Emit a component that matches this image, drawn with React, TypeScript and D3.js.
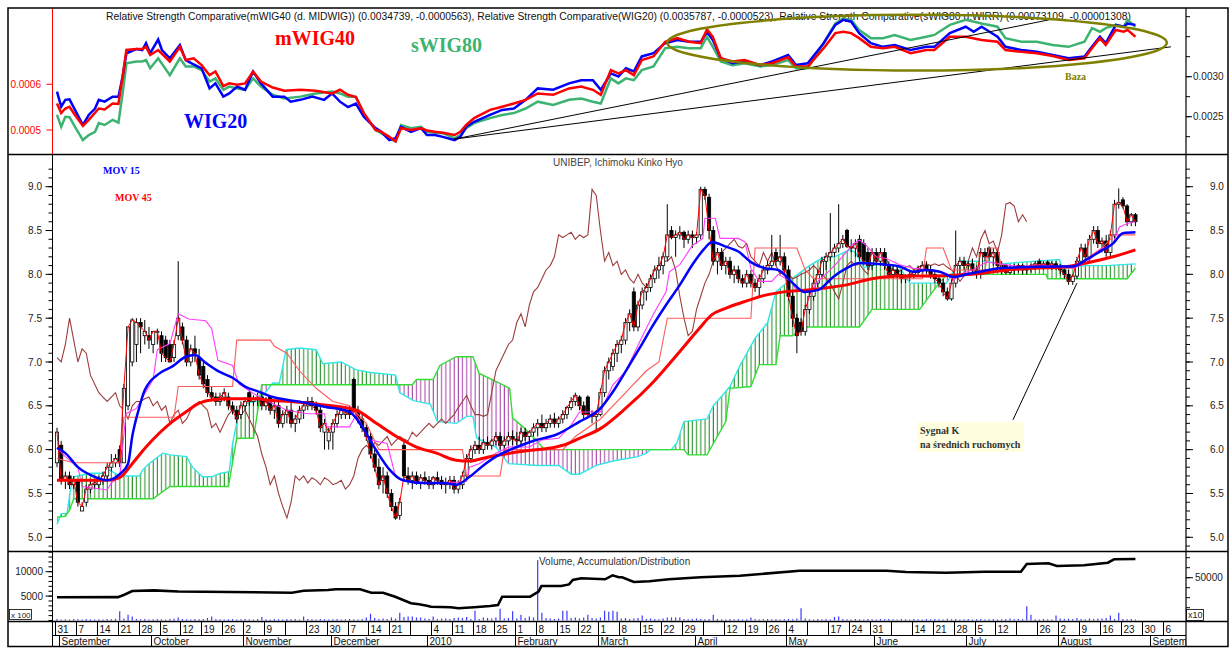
import React from "react";
import * as d3 from "d3";

type P = [number, number];

// ---------- DATA ----------
// daily candles of UNIBEP: [open, high, low, close], index = trading day from 2009-08-31
const candles: [number, number, number, number][] = [
  [5.85,6.25,5.8,6.2],[6.05,6.1,5.6,5.65],[5.65,5.75,5.55,5.7],[5.7,5.75,5.55,5.6],[5.6,5.7,5.55,5.65],
  [5.65,5.65,5.35,5.4],[5.3,5.4,5.3,5.35],[5.4,5.6,5.35,5.55],[5.55,5.65,5.5,5.6],[5.6,5.65,5.55,5.62],
  [5.6,5.7,5.55,5.65],[5.65,5.75,5.6,5.7],[5.7,5.85,5.65,5.8],[5.8,5.95,5.75,5.85],[5.85,5.95,5.8,5.9],
  [6.0,6.05,5.8,5.85],[5.85,6.75,5.85,6.7],[6.5,7.4,6.45,7.4],[7.0,7.5,6.95,7.48],[7.2,7.5,7.0,7.45],
  [7.45,7.5,7.1,7.4],[7.3,7.48,7.2,7.35],[7.3,7.4,7.15,7.25],[7.2,7.35,7.1,7.35],[7.35,7.38,7.2,7.35],
  [7.3,7.35,7.0,7.1],[7.25,7.3,7.0,7.05],[7.2,7.25,7.0,7.0],[7.05,7.25,7.0,7.2],[7.3,8.15,7.25,7.5],
  [7.4,7.45,7.2,7.25],[7.25,7.3,6.95,7.0],[7.0,7.2,6.95,7.15],[7.15,7.3,7.0,7.1],[7.05,7.15,6.8,6.85],
  [6.95,7.0,6.7,6.75],[6.8,6.85,6.6,6.65],[6.65,6.72,6.55,6.6],[6.6,6.65,6.5,6.55],[6.55,6.65,6.5,6.6],
  [6.6,6.7,6.55,6.65],[6.6,6.65,6.45,6.5],[6.5,6.55,6.4,6.45],[6.45,6.5,6.3,6.35],[6.4,6.55,6.35,6.5],
  [6.5,6.6,6.45,6.55],[6.65,6.68,6.5,6.55],[6.55,6.62,6.5,6.58],[6.58,6.65,6.5,6.6],[6.6,6.65,6.45,6.5],
  [6.5,6.6,6.45,6.55],[6.6,6.62,6.4,6.45],[6.45,6.55,6.35,6.5],[6.5,6.6,6.25,6.3],[6.3,6.45,6.25,6.4],
  [6.4,6.5,6.3,6.45],[6.45,6.55,6.25,6.3],[6.3,6.4,6.2,6.35],[6.35,6.5,6.3,6.45],[6.45,6.55,6.35,6.5],
  [6.5,6.6,6.45,6.55],[6.55,6.6,6.45,6.5],[6.5,6.55,6.4,6.45],[6.45,6.5,6.2,6.25],[6.2,6.35,6.0,6.3],
  [6.1,6.25,6.0,6.2],[6.2,6.35,6.0,6.3],[6.3,6.45,6.25,6.4],[6.4,6.5,6.35,6.45],[6.4,6.5,6.35,6.42],
  [6.45,6.5,6.35,6.4],[6.8,6.82,6.42,6.45],[6.45,6.5,6.3,6.35],[6.35,6.4,6.2,6.25],[6.25,6.3,6.1,6.15],
  [6.15,6.2,5.9,5.95],[5.95,6.0,5.75,5.8],[5.8,5.9,5.55,5.6],[5.65,5.8,5.5,5.7],[5.7,5.75,5.45,5.5],
  [5.5,5.55,5.3,5.35],[5.35,5.4,5.2,5.22],[5.25,5.45,5.2,5.4],[6.05,6.1,5.65,5.7],[5.7,5.8,5.6,5.65],
  [5.65,5.75,5.55,5.7],[5.7,5.75,5.6,5.62],[5.62,5.72,5.55,5.68],[5.68,5.75,5.6,5.65],[5.65,5.7,5.55,5.6],
  [5.6,5.7,5.55,5.68],[5.68,5.75,5.6,5.65],[5.65,5.7,5.55,5.6],[5.6,5.68,5.5,5.62],[5.62,5.7,5.55,5.65],
  [5.65,5.7,5.5,5.55],[5.55,5.65,5.5,5.6],[5.6,5.75,5.55,5.7],[5.7,5.95,5.65,5.9],[5.9,6.05,5.85,6.0],
  [6.0,6.1,5.95,6.05],[6.05,6.15,5.95,6.0],[6.0,6.12,5.95,6.08],[6.08,6.15,6.0,6.05],[6.05,6.12,6.0,6.1],
  [6.1,6.2,6.05,6.15],[6.15,6.2,6.0,6.05],[6.05,6.15,5.95,6.1],[6.1,6.2,6.05,6.15],[6.15,6.22,6.05,6.12],
  [6.12,6.2,6.05,6.1],[6.1,6.25,6.05,6.2],[6.2,6.25,6.1,6.15],[6.15,6.22,6.08,6.2],[6.2,6.3,6.15,6.25],
  [6.25,6.35,6.15,6.3],[6.3,6.4,6.2,6.25],[6.25,6.35,6.2,6.3],[6.3,6.4,6.25,6.35],[6.35,6.42,6.25,6.3],
  [6.3,6.38,6.25,6.35],[6.35,6.45,6.3,6.4],[6.4,6.5,6.35,6.48],[6.48,6.6,6.45,6.55],[6.55,6.65,6.5,6.62],
  [6.6,6.62,6.45,6.5],[6.5,6.55,6.35,6.4],[6.6,6.62,6.38,6.4],[6.4,6.45,6.3,6.38],[6.38,6.45,6.2,6.4],
  [6.4,6.7,6.38,6.65],[6.65,6.95,6.6,6.9],[6.9,7.05,6.8,7.0],[6.95,7.15,6.9,7.1],[7.1,7.25,7.0,7.2],
  [7.2,7.3,7.1,7.25],[7.25,7.5,7.2,7.45],[7.45,7.6,7.35,7.55],[7.8,7.85,7.35,7.4],[7.4,7.7,7.35,7.65],
  [7.65,7.85,7.6,7.8],[7.8,7.9,7.7,7.85],[7.85,8.0,7.8,7.95],[7.95,8.1,7.9,8.05],[8.05,8.2,7.95,8.1],
  [8.1,8.25,8.0,8.2],[8.2,8.8,8.15,8.45],[8.5,8.55,8.4,8.42],[8.42,8.5,8.2,8.45],[8.45,8.55,8.4,8.48],
  [8.48,8.5,8.3,8.4],[8.4,8.5,8.35,8.45],[8.45,8.5,8.3,8.42],[8.42,8.48,8.35,8.45],[8.45,9.0,8.4,8.97],
  [8.97,9.0,8.85,8.9],[8.88,8.92,8.4,8.5],[8.5,8.55,8.1,8.15],[8.15,8.3,8.0,8.25],[8.25,8.3,8.05,8.1],
  [8.1,8.2,8.0,8.15],[8.15,8.2,7.95,8.0],[8.0,8.1,7.9,8.05],[8.05,8.1,7.9,7.95],[7.95,8.0,7.85,7.9],
  [7.9,8.05,7.85,8.0],[8.0,8.05,7.85,7.9],[7.9,7.95,7.8,7.85],[7.85,8.0,7.75,7.95],[7.95,8.1,7.9,8.05],
  [8.05,8.15,8.0,8.1],[8.1,8.45,8.05,8.15],[8.25,8.3,8.1,8.15],[8.15,8.45,8.1,8.2],[8.2,8.25,8.0,8.05],
  [8.05,8.1,7.7,7.75],[7.75,7.8,7.4,7.5],[7.5,7.55,7.1,7.3],[7.45,7.5,7.3,7.35],[7.35,7.65,7.3,7.6],
  [7.6,7.8,7.55,7.75],[7.75,7.95,7.7,7.9],[7.9,8.05,7.85,8.0],[8.0,8.2,7.95,8.15],[8.15,8.25,8.05,8.2],
  [8.2,8.7,8.15,8.25],[8.25,8.35,8.2,8.3],[8.3,8.8,8.25,8.35],[8.35,8.45,8.3,8.4],[8.5,8.52,8.3,8.32],
  [8.32,8.4,8.25,8.3],[8.3,8.4,8.2,8.35],[8.4,8.45,8.15,8.2],[8.35,8.4,8.1,8.15],[8.25,8.3,8.05,8.1],
  [8.1,8.3,8.05,8.25],[8.25,8.3,8.1,8.15],[8.15,8.3,8.1,8.25],[8.25,8.3,8.05,8.1],[8.1,8.15,7.95,8.0],
  [8.0,8.1,7.95,8.05],[8.05,8.1,7.95,8.0],[8.0,8.05,7.9,7.95],[7.95,8.0,7.9,7.97],[7.97,8.05,7.92,8.0],
  [8.0,8.05,7.95,8.02],[8.02,8.1,7.97,8.05],[8.05,8.15,8.0,8.1],[8.1,8.15,8.0,8.05],[8.05,8.1,7.95,8.0],
  [8.0,8.05,7.9,7.95],[7.95,8.0,7.85,7.9],[7.9,7.95,7.75,7.8],[7.8,7.85,7.7,7.72],[7.72,7.95,7.7,7.9],
  [7.9,8.5,7.85,8.1],[8.1,8.2,8.0,8.15],[8.15,8.2,8.05,8.1],[8.1,8.15,8.05,8.12],[8.12,8.18,8.0,8.05],
  [8.05,8.1,7.95,8.0],[8.0,8.3,7.95,8.25],[8.25,8.3,8.15,8.2],[8.3,8.32,8.15,8.2],[8.2,8.3,8.1,8.25],
  [8.25,8.3,8.05,8.1],[8.1,8.15,8.0,8.05],[8.1,8.12,8.0,8.02],[8.02,8.1,8.0,8.05],[8.05,8.12,8.0,8.08],
  [8.08,8.12,8.02,8.1],[8.1,8.12,8.0,8.05],[8.05,8.1,8.0,8.08],[8.08,8.12,8.02,8.1],[8.1,8.15,8.05,8.12],
  [8.15,8.18,8.08,8.1],[8.1,8.15,8.05,8.12],[8.14,8.16,8.08,8.1],[8.1,8.15,8.05,8.12],[8.12,8.15,8.05,8.08],
  [8.08,8.12,8.0,8.05],[8.05,8.1,7.95,8.0],[8.0,8.05,7.88,7.92],[7.92,8.0,7.88,7.98],[7.98,8.2,7.95,8.15],
  [8.15,8.35,8.1,8.3],[8.3,8.35,8.15,8.2],[8.2,8.45,8.15,8.4],[8.4,8.55,8.35,8.5],[8.5,8.55,8.3,8.35],
  [8.35,8.42,8.25,8.38],[8.38,8.45,8.2,8.25],[8.25,8.5,8.2,8.45],[8.45,8.85,8.4,8.8],[8.8,8.98,8.75,8.82],
  [8.85,8.88,8.75,8.78],[8.78,8.8,8.55,8.6],[8.6,8.7,8.55,8.68],[8.68,8.7,8.55,8.6]
];

// volume in hundreds of shares
const volume: number[] = [
  300,200,250,200,300,250,200,300,250,200,
  250,200,300,250,350,1900,400,1200,800,300,
  250,300,200,250,300,250,200,300,350,600,
  300,250,200,300,250,300,500,800,300,250,
  200,250,300,200,250,300,250,200,300,700,
  250,200,300,250,200,300,250,300,200,800,
  300,250,200,300,250,200,250,300,200,250,
  300,250,200,300,600,1400,500,300,400,300,
  600,400,1600,700,800,800,600,600,400,300,
  800,300,400,400,300,500,600,500,700,300,
  2000,300,600,500,400,600,2400,400,500,1900,
  400,1200,500,800,600,12400,1600,500,400,300,
  400,2000,2000,500,600,400,600,1200,500,400,
  600,2000,1800,2000,1800,400,500,300,400,500,
  1000,300,400,300,250,400,600,600,600,600,
  300,250,300,400,300,250,300,1200,300,250,
  200,300,250,300,200,250,600,300,200,250,
  300,250,300,200,250,300,250,400,2500,400,
  250,200,300,250,300,200,700,800,300,250,
  200,300,250,200,300,250,200,300,250,300,
  250,200,300,250,200,300,250,200,300,250,
  300,250,200,350,250,300,200,250,300,200,
  250,300,200,250,300,200,250,300,400,250,
  300,250,2900,1200,250,200,300,250,200,1000,
  400,300,350,300,500,300,250,400,300,350,
  400,500,1000,300,1600,300,250,300,200
];

// Accumulation/Distribution (x10) at sampled days
const accDist: P[] = [
  [0,40200],[14.6,40300],[16.1,41500],[18,43350],[23.2,43650],[29,43100],[56.2,42500],[59,43500],
  [64.8,43850],[66.7,44200],[72.5,44200],[75.2,42500],[78,42500],[80.9,40500],[84.7,37200],[86.6,36700],
  [88.5,36000],[89.5,35500],[94.2,35200],[96,34700],[99.8,35200],[103.6,35850],[105.5,36350],[106.5,40500],
  [113.2,40500],[115.2,43000],[115.9,45850],[120.6,45850],[122.5,46650],[123.4,48850],[125.4,49700],
  [131.1,49200],[132.9,51200],[134.4,50200],[135.2,50200],[138,47850],[141.7,48200],[146.4,49200],
  [154,50200],[163.4,51000],[177.7,53500],[198.5,53500],[203.1,52850],[212.7,52500],[222,53000],
  [230.6,53000],[232,56850],[237.2,57200],[239.2,55850],[245.7,56200],[251.4,57500],[252.9,59200],[258,59350]
];

// moving averages and Ichimoku lines, sampled [day, value]
const mov15: P[] = [
  [0,6.02],[2,5.96],[5,5.8],[9,5.69],[12,5.65],[15,5.72],[17,5.84],[18,6.15],[19.5,6.45],[21,6.68],
  [24.5,6.87],[27.6,6.95],[30.8,7.06],[33,7.08],[35.6,6.99],[38.8,6.89],[42,6.82],[45,6.72],[48.4,6.66],
  [51.6,6.6],[55,6.57],[60,6.53],[64,6.49],[70,6.43],[73,6.26],[76.4,5.99],[79.6,5.77],[82.8,5.65],
  [87.6,5.62],[92.4,5.62],[95.5,5.6],[98.7,5.69],[102,5.82],[105,5.92],[110,6.03],[114.6,6.11],
  [119.4,6.17],[125,6.32],[130,6.47],[133,6.66],[136,6.89],[139.4,7.16],[142.6,7.42],[145.7,7.65],
  [149,7.88],[152,8.11],[155,8.3],[156.7,8.37],[159.8,8.32],[163,8.26],[166,8.14],[169.3,8.07],
  [172.5,8.05],[175.6,7.92],[178.8,7.8],[182,7.82],[185.7,7.97],[188.9,8.07],[192,8.13],[198.4,8.11],
  [201.6,8.09],[204.8,8.03],[208,8.05],[211.2,8.03],[214.4,7.97],[217.6,8.0],[220.8,8.03],[225.5,8.07],
  [230.3,8.08],[239.8,8.09],[243,8.09],[246,8.16],[249.5,8.26],[252.6,8.35],[255,8.47],[258,8.48]
];
const mov45: P[] = [
  [0,5.65],[5,5.65],[12,5.65],[15,5.68],[18,5.84],[21.3,6.03],[24.5,6.19],[27.6,6.32],[30.8,6.43],
  [34,6.53],[37.2,6.57],[42,6.58],[46.8,6.58],[51.6,6.56],[56,6.55],[60,6.53],[64,6.51],[71.6,6.45],
  [76.4,6.3],[81.2,6.15],[86,6.03],[90.8,5.96],[95.5,5.88],[98.7,5.87],[103.5,5.92],[108.3,5.96],
  [113,5.99],[119.4,6.03],[121,6.05],[125,6.13],[130,6.24],[136,6.47],[142.6,6.77],[149,7.12],
  [153.6,7.38],[156.7,7.54],[159.8,7.61],[164.6,7.69],[169.3,7.76],[174,7.8],[179,7.82],[183,7.84],
  [188.9,7.88],[195,7.95],[201.6,7.98],[208,7.98],[214.4,7.99],[220.8,8.01],[227.2,8.05],[233.6,8.07],
  [240,8.08],[246.3,8.13],[252.6,8.2],[258,8.28]
];
const tenkan: P[] = [
  [0,6.02],[2,5.92],[5,5.8],[6,5.58],[9,5.56],[12,5.54],[13,5.62],[15,5.69],[16.5,6.41],[19,6.47],
  [21,6.64],[23,6.8],[24,7.14],[27,7.21],[29,7.55],[31.5,7.49],[35.6,7.47],[37,7.38],[38.5,7.02],
  [42,6.96],[43.5,6.75],[47,6.64],[50,6.56],[55,6.45],[60,6.41],[64,6.41],[64.5,6.26],[70,6.26],
  [71.6,6.4],[74.8,6.11],[79,6.07],[81,5.69],[83,5.64],[88,5.62],[96,5.63],[98,5.64],[98.7,5.8],
  [101,5.84],[105,5.96],[108,6.03],[113,6.03],[116,6.11],[120,6.13],[123,6.28],[125,6.43],[130,6.43],
  [133,6.74],[136,6.89],[139.4,7.23],[142.6,7.54],[145.7,7.8],[146.5,8.03],[149,8.11],[152,8.33],
  [154.5,8.41],[155,8.64],[157.5,8.64],[158.6,8.41],[163,8.41],[164.6,8.37],[166,8.07],[168,7.92],
  [171,7.92],[172.5,8.0],[175.6,7.92],[177,7.81],[180.5,7.81],[182,7.92],[185,8.05],[187,8.15],
  [190.5,8.35],[192,8.39],[193.6,8.33],[196,8.2],[198.4,8.18],[201.6,8.11],[204.8,8.07],[209.6,8.05],
  [212.8,8.01],[214.4,7.93],[216,8.0],[219,8.05],[222.4,8.14],[225.5,8.12],[230,8.09],[235,8.11],
  [240,8.09],[243,8.07],[246,8.12],[249.5,8.28],[252.6,8.35],[254.2,8.54],[256,8.58],[258,8.6]
];
const kijun: P[] = [
  [0,5.9],[4,5.85],[15,5.85],[16,6.37],[28,6.37],[29,6.72],[42,6.72],[43,7.25],[51,7.25],[52,7.18],
  [55,7.1],[58,6.9],[62,6.7],[66,6.55],[70,6.5],[74,6.3],[77,6.0],[97,6.0],[98,5.7],[106,5.7],
  [107,6.0],[121,6.0],[124,6.15],[130,6.35],[137,6.7],[141,6.9],[144,7.0],[146,7.5],[166,7.5],
  [167,8.3],[177,8.3],[179,8.05],[181,7.95],[207,7.95],[208,8.3],[212,8.3],[214,8.05],[222,8.05],
  [223,8.3],[225,8.3],[226,8.07],[243,8.07],[245,8.14],[250,8.3],[253,8.45],[258,8.45]
];
const senkouA: P[] = [
  [0,5.15],[1,5.27],[2.4,5.27],[3.2,5.54],[4,5.69],[8,5.73],[11,5.73],[12.5,5.77],[15,5.7],[19.7,5.7],
  [20.5,5.77],[22,5.84],[25.3,5.96],[27,5.94],[31,5.92],[32.4,5.8],[34.8,5.69],[37,5.69],[39,5.73],
  [41.2,5.75],[42,6.07],[43.6,6.45],[45,6.53],[48.4,6.56],[51.6,6.76],[53.2,6.76],[54.8,7.14],[58,7.16],
  [62,7.14],[63.6,6.98],[68,7.0],[71.6,6.91],[75,6.88],[81,6.85],[82,6.65],[85.3,6.56],[89.3,6.52],
  [91,6.32],[95.5,6.3],[98,6.38],[99.5,6.38],[100.4,6.13],[105,6.03],[108,5.84],[115,5.82],[120,5.82],
  [123,5.72],[125,5.72],[129,5.82],[133,5.87],[139,5.92],[141,5.96],[142,6.0],[147,6.0],[148.3,6.08],
  [150,6.32],[155.5,6.35],[157,6.5],[161,6.72],[163.3,6.95],[167,7.27],[170,7.45],[172,7.8],[175,7.92],
  [180,8.1],[183.6,8.2],[186,8.2],[189.7,8.28],[191,8.25],[193,8.08],[197,8.12],[201,8.1],[202,8.05],
  [204,7.9],[212.8,7.9],[214.4,8.03],[216,8.15],[222,8.15],[226,8.12],[231,8.14],[239.8,8.17],
  [240.6,8.05],[242,8.08],[246,8.1],[251,8.1],[258,8.12]
];
const senkouB: P[] = [
  [0,5.23],[2,5.24],[3,5.31],[4,5.44],[23,5.44],[27,5.58],[41,5.58],[43,6.13],[47,6.13],[49,6.74],
  [85,6.74],[86,6.8],[90,6.8],[91.6,6.96],[95.5,7.06],[99.5,7.06],[101,6.87],[105,6.78],[108.3,6.7],
  [109,6.36],[111.5,6.26],[115,6.09],[116.6,6.0],[150,6.0],[151,5.94],[155.5,5.94],[160,6.32],
  [161,6.7],[166,6.72],[168,6.97],[172,6.97],[173,7.3],[176,7.3],[179,7.4],[192,7.4],[195,7.6],
  [206.4,7.6],[211,7.9],[213,8.0],[236.6,8.0],[237,7.95],[256,7.95],[258,8.07]
];
const CHIKOU_LAG = 26;

// Relative Strength Comparative, in units of 1e-4
const rsWIG20: P[] = [
  [0,5.84],[1,5.51],[2,5.66],[3,5.67],[4.3,5.44],[6.2,5.11],[7.6,5.33],[9.1,5.47],[10,5.66],[11.4,5.62],
  [13.3,5.73],[14.7,5.73],[15.7,6.17],[16.6,6.68],[19,6.77],[20.4,6.75],[21.3,6.9],[22.3,6.68],[24.2,6.98],
  [25.1,6.75],[27,6.57],[29.4,6.86],[30.8,6.53],[32.2,6.46],[34.6,6.35],[36.5,5.91],[37.9,6.02],[39.8,5.73],
  [41.2,5.8],[43.1,5.95],[45,5.88],[46.9,6.28],[48.8,6.02],[51.6,5.73],[54.4,5.73],[55.9,5.62],[58.2,5.66],
  [61.1,5.73],[63.9,5.66],[65.8,5.8],[67.7,5.62],[69.6,5.5],[71.5,5.58],[73.4,5.29],[76.2,5.04],[77.6,4.96],
  [79.5,4.78],[81,4.82],[82.3,5.07],[84.7,4.96],[87.1,5.04],[88.5,4.89],[90.4,4.89],[92.3,4.85],[95.1,4.78],
  [96.5,4.85],[97.9,5.07],[99.8,5.18],[103.6,5.33],[106.5,5.44],[109.3,5.47],[112.1,5.66],[115,5.91],
  [118.7,5.88],[122.5,6.02],[125.4,6.09],[128.2,6.09],[130.1,5.88],[132.5,6.24],[134.3,6.17],[136.1,6.35],
  [138,6.28],[139.9,6.61],[142.7,6.68],[145.5,6.9],[148.4,6.97],[151.2,6.93],[154,6.93],[155.5,7.15],
  [156.9,6.97],[158.8,6.57],[161.6,6.46],[164.5,6.5],[168.3,6.42],[171.1,6.5],[174.9,6.64],[176.8,6.42],
  [179.6,6.46],[183.4,6.9],[186.2,7.3],[188.1,7.41],[190,7.37],[191.9,7.12],[194.7,6.9],[197.6,6.82],
  [200.4,6.86],[204.2,6.75],[208,6.82],[209.9,6.82],[213.6,7.12],[217.4,7.26],[219.3,7.15],[221.2,7.26],
  [223.1,7.15],[225,7.04],[226.9,6.82],[230.7,6.75],[234.4,6.71],[238.2,6.64],[242,6.57],[245.8,6.61],
  [247.6,6.82],[249.5,7.04],[250.9,6.9],[253.3,7.3],[255.2,7.26],[256.1,7.33],[258,7.3]
];
const rsMWIG40: P[] = [
  [0,5.58],[1,5.37],[2,5.47],[3,5.51],[4.3,5.33],[6.2,5.09],[7.6,5.22],[10,5.47],[11.4,5.45],[13.3,5.58],
  [14.7,5.57],[15.7,6.17],[16.6,6.75],[19,6.77],[20.4,6.77],[21.3,6.82],[22.3,6.64],[24.2,6.75],[27,6.5],
  [29.4,6.82],[30.8,6.53],[32.7,6.57],[34.6,6.42],[36.5,6.2],[37.9,6.28],[39.8,5.96],[41.2,6.02],[43.1,5.99],
  [45,6.02],[46.9,6.28],[48.8,6.06],[51.6,5.93],[54.4,5.86],[58.2,5.88],[61.9,5.86],[65.8,5.8],[67.7,5.88],
  [69.6,5.77],[71.5,5.72],[73.4,5.37],[76.2,5.0],[77.6,4.96],[79.5,4.85],[81,4.75],[82.3,5.04],[84.7,5.0],
  [87.1,5.04],[88.5,4.99],[90.4,4.96],[92.3,4.94],[95.1,4.89],[96.5,4.96],[97.9,5.11],[99.8,5.26],
  [103.6,5.44],[106.5,5.51],[109.3,5.58],[112.1,5.66],[115,5.8],[118.7,5.77],[122.5,5.91],[125.4,5.95],
  [128.2,5.88],[130.1,5.77],[132.5,6.31],[134.3,6.24],[136.1,6.31],[138,6.2],[139.9,6.53],[142.7,6.61],
  [145.5,6.93],[148.4,7.01],[151.2,6.93],[154,6.9],[155.5,7.2],[156.9,7.04],[158.8,6.57],[161.6,6.5],
  [164.5,6.53],[168.3,6.42],[171.1,6.46],[174.9,6.59],[176.8,6.39],[179.6,6.39],[183.4,6.79],[186.2,7.12],
  [188.1,7.15],[190,7.12],[191.9,7.01],[194.7,6.82],[197.6,6.79],[200.4,6.82],[204.2,6.68],[208,6.75],
  [209.9,6.75],[213.6,7.04],[217.4,7.04],[221.2,6.97],[225,6.93],[226.9,6.75],[230.7,6.71],[234.4,6.68],
  [238.2,6.62],[242,6.53],[245.8,6.57],[247.6,6.79],[249.5,7.01],[250.9,6.86],[253.3,7.19],[255.2,7.15],
  [256.1,7.19],[258,7.04]
];
const rsSWIG80: P[] = [
  [0,5.33],[1,5.07],[2,5.29],[3,5.28],[4.3,5.07],[6.2,4.78],[7.6,4.89],[9.1,4.96],[10,5.15],[11.4,5.11],
  [13.3,5.22],[14.7,5.16],[15.7,5.8],[16.6,6.46],[19,6.5],[20.4,6.5],[21.3,6.53],[22.3,6.35],[24.2,6.57],
  [27,6.2],[29.4,6.57],[30.8,6.39],[32.7,6.39],[34.6,6.31],[36.5,6.06],[37.9,6.13],[39.8,5.88],[41.2,5.95],
  [43.1,5.91],[45,5.88],[46.9,6.13],[48.8,5.95],[51.6,5.77],[54.4,5.69],[58.2,5.73],[61.9,5.8],[65.8,5.84],
  [67.7,5.8],[69.6,5.73],[71.5,5.73],[73.4,5.37],[76.2,5.0],[77.6,4.93],[79.5,4.82],[81,4.75],[82.3,5.11],
  [84.7,5.04],[87.1,5.07],[88.5,4.96],[90.4,4.94],[92.3,4.93],[95.1,4.82],[96.5,4.89],[97.9,5.04],
  [99.8,5.15],[103.6,5.26],[106.5,5.33],[109.3,5.37],[112.1,5.47],[115,5.62],[118.7,5.55],[122.5,5.66],
  [125.4,5.69],[128.2,5.62],[130.1,5.58],[132.5,6.13],[134.3,6.02],[136.1,6.13],[138,6.09],[139.9,6.31],
  [142.7,6.39],[145.5,6.79],[148.4,6.82],[151.2,6.79],[154,6.79],[155.5,7.04],[156.9,6.82],[158.8,6.5],
  [161.6,6.42],[164.5,6.46],[168.3,6.39],[171.1,6.42],[174.9,6.53],[176.8,6.35],[179.6,6.35],[183.4,6.9],
  [186.2,7.33],[188.1,7.44],[190,7.41],[191.9,7.19],[194.7,7.01],[197.6,7.01],[200.4,7.08],[204.2,6.97],
  [208,7.04],[209.9,7.08],[213.6,7.3],[217.4,7.41],[221.2,7.33],[225,7.26],[226.9,7.01],[230.7,6.93],
  [234.4,6.93],[238.2,6.86],[242,6.82],[245.8,6.93],[247.6,7.23],[249.5,7.15],[250.9,7.23],[253.3,7.3],
  [255.2,7.26],[256.1,7.41],[258,7.26]
];

// annotations (data coordinates)
const rsTrendLines: [P, P][] = [
  [[95, 4.8], [237.3, 7.41]],
  [[95, 4.8], [266.5, 6.82]],
];
const bazaEllipse = { i0: 146, i1: 265.5, vTop: 7.52, vBottom: 6.3 };
const signalLine: [P, P] = [[228.7, 6.34], [244, 7.9]];

// axis texts
const weekLabels = ["31","7","14","21","28","5","12","19","26","2","9","","23","30","7","14","21","","4","11","18","25",
  "1","8","15","22","1","8","15","22","29","","12","19","26","4","","17","24","31","","14","21","28","5","12","","26",
  "2","9","16","23","30","6"];
const monthLabels = ["September","October","November","December","2010","February","March","April","May","June",
  "July","August","September"];
const priceTicks = [5.0, 5.5, 6.0, 6.5, 7.0, 7.5, 8.0, 8.5, 9.0];
const rsLeftTicks: [number, string][] = [[5, "0.0005"], [6, "0.0006"]];
const rsRightTicks: [number, string][] = [[0.0025, "0.0025"], [0.003, "0.0030"]];
const volTicks: [number, string][] = [[5000, "5000"], [10000, "10000"]];
const adTicks: [number, string][] = [[50000, "50000"]];
const TITLE_RS = "Relative Strength Comparative(mWIG40 (d. MIDWIG)) (0.0034739, -0.0000563), Relative Strength Comparative(WIG20) (0.0035787, -0.0000523), Relative Strength Comparative(sWIG80 d.WIRR) (0.00073109, -0.00001308)";

// ---------- LAYOUT ----------
const LEFT = 52.5, RIGHT = 1186;
const TOP_Y0 = 8, TOP_Y1 = 154.5, MAIN_Y1 = 551.5, VOL_Y1 = 621.5, DATE_MID = 635.5, BOTTOM = 646.5;
const SANS = "'Liberation Sans', Arial, sans-serif";
const SERIF = "'Liberation Serif', 'Times New Roman', serif";

export default function App() {
  const x = d3.scaleLinear().domain([0, 265]).range([57, 57 + 4.18 * 265]);
  const yP = d3.scaleLinear().domain([5, 9]).range([537.3, 186.7]);
  const yRS = d3.scaleLinear().domain([5, 6]).range([130, 84.3]);
  const yRSR = d3.scaleLinear().domain([0.0025, 0.003]).range([116.7, 76.7]);
  const yVol = d3.scaleLinear().domain([0, 10000]).range([620.5, 571.7]);
  const yAD = d3.scaleLinear().domain([40000, 50000]).range([597.7, 577.7]);

  const lineP = d3.line<P>().x(d => x(d[0])).y(d => yP(d[1]));
  const lineSmooth = d3.line<P>().x(d => x(d[0])).y(d => yP(d[1])).curve(d3.curveMonotoneX);
  const lineRS = d3.line<P>().x(d => x(d[0])).y(d => yRS(d[1]));
  const lineAD = d3.line<P>().x(d => x(d[0])).y(d => yAD(d[1]));

  const closes: P[] = candles.map((c, i) => [i, c[3]]);
  const chikou: P[] = candles.slice(CHIKOU_LAG).map((c, i) => [i, c[3]]);

  const band = (lineP([...senkouA, ...senkouB.slice().reverse()]) || "") + "Z";
  const lastB = senkouB[senkouB.length - 1][0];
  const aboveB = (lineP([[senkouB[0][0], 10], ...senkouB, [lastB, 10]]) || "") + "Z";
  const belowB = (lineP([[senkouB[0][0], 4], ...senkouB, [lastB, 4]]) || "") + "Z";

  // trading days
  const days: Date[] = [];
  for (let d = new Date(2009, 7, 31); days.length < 272; d.setDate(d.getDate() + 1)) {
    const wd = d.getDay();
    if (wd !== 0 && wd !== 6) days.push(new Date(d));
  }
  const monthStarts: number[] = [];
  days.forEach((d, i) => { if (i > 0 && d.getMonth() !== days[i - 1].getMonth()) monthStarts.push(i); });

  const minorPrice = d3.range(4.9, 9.25, 0.1);
  const minorVol = d3.range(0, 14001, 1000);
  const minorRSR = d3.range(0.00225, 0.0038, 0.00025);

  const el = bazaEllipse;
  const ecx = (x(el.i0) + x(el.i1)) / 2, erx = (x(el.i1) - x(el.i0)) / 2;
  const ecy = (yRS(el.vTop) + yRS(el.vBottom)) / 2, ery = (yRS(el.vBottom) - yRS(el.vTop)) / 2;

  const sigX0 = x(signalLine[0][0]), sigY0 = yP(signalLine[0][1]);

  return (
    <svg width={1230} height={648} style={{ position: "absolute", left: 0, top: 0, background: "#fff" }}
      fontFamily={SANS}>
      <defs>
        <clipPath id="cTop"><rect x={LEFT} y={TOP_Y0} width={RIGHT - LEFT} height={TOP_Y1 - TOP_Y0} /></clipPath>
        <clipPath id="cMain"><rect x={LEFT} y={TOP_Y1} width={RIGHT - LEFT} height={MAIN_Y1 - TOP_Y1} /></clipPath>
        <clipPath id="cVol"><rect x={LEFT} y={MAIN_Y1} width={RIGHT - LEFT} height={VOL_Y1 - MAIN_Y1} /></clipPath>
        <clipPath id="cDate"><rect x={LEFT} y={VOL_Y1} width={RIGHT - LEFT} height={BOTTOM - VOL_Y1} /></clipPath>
        <clipPath id="cAbove"><path d={aboveB} /></clipPath>
        <clipPath id="cBelow"><path d={belowB} /></clipPath>
        <pattern id="hG" patternUnits="userSpaceOnUse" x={x(0) - 1} y={0} width={4.18} height={8}>
          <rect x={0.6} y={0} width={1} height={8} fill="#1a8a1a" />
        </pattern>
        <pattern id="hP" patternUnits="userSpaceOnUse" x={x(0) - 1} y={0} width={4.18} height={8}>
          <rect x={0.6} y={0} width={1} height={8} fill="#a53aa5" />
        </pattern>
      </defs>

      {/* ===== TOP PANEL: relative strength ===== */}
      <text x={106} y={20} fontSize={10} fill="#111" textLength={1025} lengthAdjust="spacingAndGlyphs">{TITLE_RS}</text>
      <g clipPath="url(#cTop)">
        <path d={lineRS(rsSWIG80) || ""} fill="none" stroke="#3cb371" strokeWidth={2.5} />
        <path d={lineRS(rsWIG20) || ""} fill="none" stroke="#0000ff" strokeWidth={2.5} />
        <path d={lineRS(rsMWIG40) || ""} fill="none" stroke="#ff0000" strokeWidth={2.5} />
        {rsTrendLines.map((l, k) => (
          <line key={k} x1={x(l[0][0])} y1={yRS(l[0][1])} x2={x(l[1][0])} y2={yRS(l[1][1])} stroke="#000" strokeWidth={1} />
        ))}
        <ellipse cx={ecx} cy={ecy} rx={erx} ry={ery} fill="none" stroke="#808000" strokeWidth={2.5} />
      </g>
      <text x={275} y={45} fontFamily={SERIF} fontWeight="bold" fontSize={20} fill="#ff0000">mWIG40</text>
      <text x={411} y={52} fontFamily={SERIF} fontWeight="bold" fontSize={20} fill="#3cb371">sWIG80</text>
      <text x={184} y={128} fontFamily={SERIF} fontWeight="bold" fontSize={20} fill="#0000ff">WIG20</text>
      <text x={1065} y={80} fontFamily={SERIF} fontWeight="bold" fontSize={10} fill="#808000">Baza</text>
      {rsLeftTicks.map(([v, t]) => (
        <g key={t}>
          <line x1={LEFT - 6} x2={LEFT} y1={yRS(v)} y2={yRS(v)} stroke="#ff0000" />
          <text x={41} y={yRS(v) + 3.5} fontSize={10} fill="#ff0000" textAnchor="end">{t}</text>
        </g>
      ))}
      {minorRSR.map(v => (
        <line key={v} x1={RIGHT} x2={RIGHT + 4} y1={yRSR(v)} y2={yRSR(v)} stroke="#000" />
      ))}
      {rsRightTicks.map(([v, t]) => (
        <g key={t}>
          <line x1={RIGHT} x2={RIGHT + 6} y1={yRSR(v)} y2={yRSR(v)} stroke="#000" />
          <text x={1193} y={yRSR(v) + 3.5} fontSize={10} fill="#222">{t}</text>
        </g>
      ))}

      {/* ===== MAIN PANEL: price & Ichimoku ===== */}
      <text x={618} y={166} fontSize={10} fill="#444" textAnchor="middle">UNIBEP, Ichimoku Kinko Hyo</text>
      <text x={103} y={174} fontFamily={SERIF} fontWeight="bold" fontSize={10} fill="#0000ff">MOV 15</text>
      <text x={115} y={201} fontFamily={SERIF} fontWeight="bold" fontSize={10} fill="#ff0000">MOV 45</text>
      <g clipPath="url(#cMain)">
        <g clipPath="url(#cAbove)"><path d={band} fill="url(#hG)" /></g>
        <g clipPath="url(#cBelow)"><path d={band} fill="url(#hP)" /></g>
        <path d={lineP(senkouA) || ""} fill="none" stroke="#33e6e6" strokeWidth={1.4} />
        <path d={lineP(senkouB) || ""} fill="none" stroke="#33dd33" strokeWidth={1.4} />
        <path d={lineP(chikou) || ""} fill="none" stroke="#9c3c3c" strokeWidth={1.1} />
        {candles.map((c, i) => {
          const [o, h, l, cl] = c;
          const cx = x(i);
          const up = cl >= o;
          const top = yP(Math.max(o, cl)), bot = yP(Math.min(o, cl));
          return (
            <g key={i}>
              <line x1={cx} x2={cx} y1={yP(h)} y2={yP(l)} stroke="#000" strokeWidth={1} />
              <rect x={cx - 1.6} y={top} width={3.2} height={Math.max(1, bot - top)}
                fill={up ? "#fff" : "#000"} stroke="#000" strokeWidth={0.8} />
            </g>
          );
        })}
        <path d={lineP(kijun) || ""} fill="none" stroke="#ff5a5a" strokeWidth={1.1} />
        <path d={lineP(tenkan) || ""} fill="none" stroke="#ff3cff" strokeWidth={1.1} />
        <path d={lineP(closes) || ""} fill="none" stroke="#ff0000" strokeWidth={1} />
        <path d={lineSmooth(mov45) || ""} fill="none" stroke="#ff0000" strokeWidth={3} />
        <path d={lineSmooth(mov15) || ""} fill="none" stroke="#0000ff" strokeWidth={2.5} />
        <line x1={sigX0} y1={sigY0} x2={x(signalLine[1][0])} y2={yP(signalLine[1][1])} stroke="#000" strokeWidth={1} />
      </g>
      <rect x={917} y={422} width={107} height={30} fill="#ffffe0" />
      <text x={920} y={434} fontFamily={SERIF} fontWeight="bold" fontSize={10} fill="#333">Sygnał K</text>
      <text x={920} y={448} fontFamily={SERIF} fontWeight="bold" fontSize={10} fill="#333">na średnich ruchomych</text>
      {minorPrice.map(v => (
        <g key={v}>
          <line x1={LEFT - 4} x2={LEFT} y1={yP(v)} y2={yP(v)} stroke="#000" />
          <line x1={RIGHT} x2={RIGHT + 4} y1={yP(v)} y2={yP(v)} stroke="#000" />
        </g>
      ))}
      {priceTicks.map(v => (
        <g key={v}>
          <line x1={LEFT - 7} x2={LEFT} y1={yP(v)} y2={yP(v)} stroke="#000" />
          <line x1={RIGHT} x2={RIGHT + 7} y1={yP(v)} y2={yP(v)} stroke="#000" />
          <text x={42} y={yP(v) + 3.5} fontSize={10} fill="#222" textAnchor="end">{d3.format(".1f")(v)}</text>
          <text x={1210} y={yP(v) + 3.5} fontSize={10} fill="#222">{d3.format(".1f")(v)}</text>
        </g>
      ))}

      {/* ===== VOLUME PANEL ===== */}
      <g clipPath="url(#cVol)">
        {volume.map((v, i) => (
          <line key={i} x1={x(i)} x2={x(i)} y1={yVol(0)} y2={yVol(v)} stroke="#3b3bff" strokeWidth={1.2} />
        ))}
        <path d={lineAD(accDist) || ""} fill="none" stroke="#000" strokeWidth={2.6} />
      </g>
      <text x={539} y={565} fontSize={10} fill="#333">Volume, Accumulation/Distribution</text>
      {minorVol.map(v => (
        <line key={v} x1={LEFT - 4} x2={LEFT} y1={yVol(v)} y2={yVol(v)} stroke="#000" />
      ))}
      {volTicks.map(([v, t]) => (
        <g key={t}>
          <line x1={LEFT - 7} x2={LEFT} y1={yVol(v)} y2={yVol(v)} stroke="#000" />
          <text x={43} y={yVol(v) + 3.5} fontSize={10} fill="#222" textAnchor="end">{t}</text>
        </g>
      ))}
      {d3.range(35000, 62001, 5000).map(v => (
        <line key={v} x1={RIGHT} x2={RIGHT + 4} y1={yAD(v)} y2={yAD(v)} stroke="#000" />
      ))}
      {adTicks.map(([v, t]) => (
        <g key={t}>
          <line x1={RIGHT} x2={RIGHT + 7} y1={yAD(v)} y2={yAD(v)} stroke="#000" />
          <text x={1195} y={yAD(v) + 3.5} fontSize={10} fill="#222">{t}</text>
        </g>
      ))}
      <rect x={9.5} y={609.5} width={22} height={10} fill="#fff" stroke="#000" strokeWidth={0.8} />
      <text x={11} y={617.5} fontSize={8} fill="#222">x 100</text>
      <rect x={1186.5} y={609.5} width={17} height={11} fill="#fff" stroke="#000" strokeWidth={0.8} />
      <text x={1188} y={618} fontSize={9} fill="#222">x10</text>

      {/* ===== DATE AXIS ===== */}
      <g clipPath="url(#cDate)">
        {weekLabels.map((t, w) => {
          const sx = Math.round(x(w * 5) - 2) + 0.5;
          return (
            <g key={w}>
              <line x1={sx} x2={sx} y1={VOL_Y1} y2={DATE_MID} stroke="#000" />
              {t && <text x={sx + 2} y={632.5} fontSize={10} fill="#111">{t}</text>}
            </g>
          );
        })}
        {monthStarts.slice(0, monthLabels.length).map((i, k) => {
          const sx = Math.round(x(i) - 2) + 0.5;
          return (
            <g key={k}>
              <line x1={sx} x2={sx} y1={DATE_MID} y2={BOTTOM} stroke="#000" />
              <text x={sx + 2} y={645} fontSize={10} fill="#111">{monthLabels[k]}</text>
            </g>
          );
        })}
      </g>

      {/* ===== FRAMES ===== */}
      <line x1={LEFT} x2={LEFT} y1={TOP_Y0} y2={TOP_Y1} stroke="#ff0000" strokeWidth={1} />
      <line x1={LEFT} x2={LEFT} y1={TOP_Y1} y2={BOTTOM} stroke="#000" strokeWidth={1} />
      <line x1={RIGHT} x2={RIGHT} y1={TOP_Y0} y2={BOTTOM} stroke="#000" strokeWidth={1.2} />
      <line x1={8} x2={1228} y1={TOP_Y1} y2={TOP_Y1} stroke="#000" strokeWidth={1.5} />
      <line x1={8} x2={1228} y1={MAIN_Y1} y2={MAIN_Y1} stroke="#000" strokeWidth={1.5} />
      <line x1={8} x2={1228} y1={VOL_Y1} y2={VOL_Y1} stroke="#000" strokeWidth={1.5} />
      <line x1={LEFT} x2={RIGHT} y1={DATE_MID} y2={DATE_MID} stroke="#000" strokeWidth={1} />
      <rect x={8} y={TOP_Y0} width={1220} height={BOTTOM - TOP_Y0} fill="none" stroke="#000" strokeWidth={1.5} />
    </svg>
  );
}
